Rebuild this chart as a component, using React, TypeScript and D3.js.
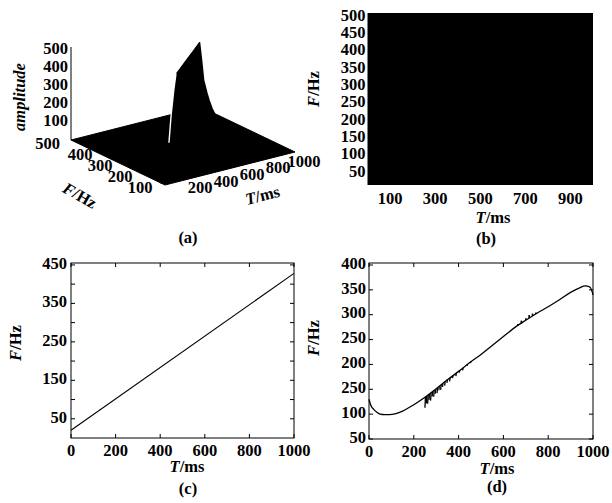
import React from 'react';
import * as d3 from 'd3';

const W = 612;
const H = 503;
const FONT = '"Liberation Serif", "Times New Roman", serif';
const FS = 16.5;

// ---------- (a) 3-D amplitude surface ----------
const surfTicksF = [500, 400, 300, 200, 100];
const surfTicksT = [200, 400, 600, 800, 1000];
const surfTicksA = [100, 200, 300, 400, 500];
const ridgeT = [0, 100, 150, 160, 200, 250, 292, 400, 500, 600, 719, 760, 795, 830, 859, 900, 953, 1000];
const ridgeA = [0, 0, 10, 163, 300, 420, 497, 498, 499, 500, 502, 380, 265, 210, 166, 110, 46, 0];

// chirp (instantaneous frequency) used in (a) and (c)
const chirpT = [0, 1000];
const chirpF = [20, 428];

// ---------- (b) spectrogram ----------
const specYTicks = [500, 450, 400, 350, 300, 250, 200, 150, 100, 50];
const specXTicks = [100, 300, 500, 700, 900];

// ---------- (c) ----------
const cYTicks = [50, 100, 150, 200, 250, 300, 350, 400, 450];
const cYLabels = [50, 150, 250, 350, 450];
const cXTicks = [0, 200, 400, 600, 800, 1000];

// ---------- (d) ----------
const dT = [0, 5, 10, 20, 35, 50, 70, 90, 120, 150, 200, 250, 300, 350, 400, 450, 500, 550, 600, 650, 700, 750, 800, 850, 900, 940, 965, 985, 995, 1000];
const dF = [130, 122, 116, 110, 104, 100, 99, 99, 101, 106, 119, 134, 151, 169, 186, 204, 220, 238, 256, 274, 289, 303, 316, 330, 345, 354, 358, 356, 348, 340];
const spikeT = [252, 258, 264, 270, 277, 284, 291, 298, 306, 314, 322, 330, 340, 350, 362, 375, 390, 405, 420, 440, 455];
const spikeLen = [22, 15, 18, 12, 16, 10, 13, 9, 11, 8, 10, 7, 8, 6, 7, 5, 6, 4, 5, 3, 3];
const bumpT = [665, 680, 700, 715, 730, 745];
const bumpLen = [3, 5, 4, 6, 5, 3];
const dYTicks = [400, 350, 300, 250, 200, 150, 100, 50];
const dYLabels = ['400', '350', '300', '250', '200', '250', '100', '50'];
const dXTicks = [0, 200, 400, 600, 800, 1000];

const txt = (extra: any = {}) => ({ fontFamily: FONT, fontSize: FS, fontWeight: 'bold', fill: '#000', ...extra });

function Frame({ x, y, ticksY, ticksX }: any) {
  const [x0, x1] = x.range();
  const [y0, y1] = y.range();
  const L = 4;
  return (
    <g>
      <rect x={x0} y={y1} width={x1 - x0} height={y0 - y1} fill="none" stroke="#000" strokeWidth={1} />
      {ticksY.map((v: number) => (
        <g key={'y' + v}>
          <line x1={x0} x2={x0 + L} y1={y(v)} y2={y(v)} stroke="#000" />
          <line x1={x1} x2={x1 - L} y1={y(v)} y2={y(v)} stroke="#000" />
        </g>
      ))}
      {ticksX.map((v: number) => (
        <g key={'x' + v}>
          <line x1={x(v)} x2={x(v)} y1={y0} y2={y0 - L} stroke="#000" />
          <line x1={x(v)} x2={x(v)} y1={y1} y2={y1 + L} stroke="#000" />
        </g>
      ))}
    </g>
  );
}

function TLabel({ x, y }: any) {
  return (
    <text x={x} y={y} textAnchor="middle" {...txt()}>
      <tspan fontStyle="italic">T</tspan>/ms
    </text>
  );
}

function FLabel({ x, y, rot = -90 }: any) {
  return (
    <text transform={`translate(${x},${y}) rotate(${rot})`} textAnchor="middle" dominantBaseline="middle" {...txt()}>
      <tspan fontStyle="italic">F</tspan>/Hz
    </text>
  );
}

function PanelA() {
  const sxT = d3.scaleLinear([0, 1000], [0, 130]);
  const syT = d3.scaleLinear([0, 1000], [0, -33]);
  const sxF = d3.scaleLinear([0, 500], [0, -94]);
  const syF = d3.scaleLinear([0, 500], [0, -45]);
  const syA = d3.scaleLinear([0, 500], [0, -90]);
  const ox = 165, oy = 185;
  const proj = (t: number, f: number, a: number): [number, number] => [
    ox + sxT(t) + sxF(f),
    oy + syT(t) + syF(f) + syA(a),
  ];
  // label offset along the F axis grows slightly with distance (perspective-like)
  const fLabDx = d3.scaleLinear([100, 500], [-6, -11]);
  const fLabDy = d3.scaleLinear([100, 500], [13, 5]);
  const chirp = d3.scaleLinear(chirpT, chirpF);
  const line = d3.line();
  const floor = [proj(0, 500, 0), proj(0, 0, 0), proj(1000, 0, 0), proj(1000, 500, 0)];
  const top = ridgeT.map((t, i) => proj(t, chirp(t), ridgeA[i]));
  const base = ridgeT.map((t) => proj(t, chirp(t), 0)).reverse();
  const white = ridgeT
    .map((t, i) => ({ t, p: proj(t, chirp(t), ridgeA[i]) }))
    .filter((d) => d.t >= 160 && d.t <= 292)
    .map((d) => [d.p[0] - 0.8, d.p[1]] as [number, number]);
  const axTop = proj(0, 500, 500);
  const axBot = proj(0, 500, 0);
  return (
    <g>
      <path d={line(floor as any) + 'Z'} fill="#000" stroke="#000" />
      <path d={line([...top, ...base] as any) + 'Z'} fill="#000" stroke="#000" strokeWidth={1.5} strokeLinejoin="round" />
      <path d={line(white as any) || ''} fill="none" stroke="#fff" strokeWidth={1.4} />
      <line x1={axBot[0]} y1={axBot[1]} x2={axTop[0]} y2={axTop[1] - 3} stroke="#000" />
      {surfTicksA.map((a) => {
        const p = proj(0, 500, a);
        return (
          <text key={a} x={p[0] - 3} y={p[1]} textAnchor="end" dominantBaseline="middle" {...txt()}>
            {a}
          </text>
        );
      })}
      {surfTicksF.map((f) => {
        const p = proj(0, f, 0);
        return (
          <text key={f} x={p[0] + fLabDx(f)} y={p[1] + fLabDy(f)} textAnchor={f === 500 ? 'end' : 'middle'} dominantBaseline="middle" {...txt()}>
            {f}
          </text>
        );
      })}
      {surfTicksT.map((t) => {
        const p = proj(t, 0, 0);
        return (
          <text key={t} x={p[0] + 9} y={p[1] + 11} textAnchor="middle" dominantBaseline="middle" {...txt()}>
            {t}
          </text>
        );
      })}
      <text transform="translate(21,97) rotate(-90)" textAnchor="middle" dominantBaseline="middle" {...txt({ fontStyle: 'italic' })}>
        amplitude
      </text>
      <FLabel x={79} y={197} rot={30} />
      <text transform="translate(263,197) rotate(-14)" textAnchor="middle" dominantBaseline="middle" {...txt()}>
        <tspan fontStyle="italic">T</tspan>/ms
      </text>
      <text x={188} y={243} textAnchor="middle" {...txt()}>(a)</text>
    </g>
  );
}

function PanelB() {
  const x = d3.scaleLinear([0, 1000], [367.5, 593]);
  const y = d3.scaleLinear([15, 511], [185, 13]);
  return (
    <g>
      <rect x={x(0)} y={y(511)} width={x(1000) - x(0)} height={y(15) - y(511)} fill="#000" />
      {specYTicks.map((v) => (
        <text key={v} x={x(0) - 2} y={y(v)} textAnchor="end" dominantBaseline="middle" {...txt()}>
          {v}
        </text>
      ))}
      {specXTicks.map((v) => (
        <text key={v} x={x(v)} y={204} textAnchor="middle" {...txt()}>
          {v}
        </text>
      ))}
      <TLabel x={493} y={223} />
      <FLabel x={315} y={89} />
      <text x={486} y={244} textAnchor="middle" {...txt()}>(b)</text>
    </g>
  );
}

function PanelC() {
  const x = d3.scaleLinear([0, 1000], [71, 294]);
  const y = d3.scaleLinear([0, 455], [438, 263]);
  const line = d3.line<number>().x((_, i) => x(chirpT[i])).y((d) => y(d));
  return (
    <g>
      <Frame x={x} y={y} ticksY={cYTicks} ticksX={cXTicks} />
      <path d={line(chirpF) || ''} fill="none" stroke="#000" strokeWidth={1.1} />
      {cYLabels.map((v) => (
        <text key={v} x={67} y={y(v)} textAnchor="end" dominantBaseline="middle" {...txt()}>
          {v}
        </text>
      ))}
      {cXTicks.map((v) => (
        <text key={v} x={x(v)} y={456} textAnchor="middle" {...txt()}>
          {v}
        </text>
      ))}
      <TLabel x={187} y={472} />
      <FLabel x={17} y={343} />
      <text x={188} y={494} textAnchor="middle" {...txt()}>(c)</text>
    </g>
  );
}

function PanelD() {
  const x = d3.scaleLinear([0, 1000], [369, 593]);
  const y = d3.scaleLinear([50, 404], [439, 263]);
  const fAt = d3.scaleLinear(dT, dF);
  const line = d3
    .line<number>()
    .x((_, i) => x(dT[i]))
    .y((d) => y(d))
    .curve(d3.curveMonotoneX);
  return (
    <g>
      <Frame x={x} y={y} ticksY={dYTicks} ticksX={dXTicks} />
      <path d={line(dF) || ''} fill="none" stroke="#000" strokeWidth={1.3} />
      {spikeT.map((t, i) => (
        <line key={'s' + t} x1={x(t)} x2={x(t) - 0.5} y1={y(fAt(t))} y2={y(fAt(t) - spikeLen[i])} stroke="#000" strokeWidth={1.3} />
      ))}
      {bumpT.map((t, i) => (
        <line key={'b' + t} x1={x(t)} x2={x(t)} y1={y(fAt(t))} y2={y(fAt(t) + bumpLen[i])} stroke="#000" strokeWidth={1.6} />
      ))}
      {dYTicks.map((v, i) => (
        <text key={v} x={366} y={y(v)} textAnchor="end" dominantBaseline="middle" {...txt()}>
          {dYLabels[i]}
        </text>
      ))}
      {dXTicks.map((v) => (
        <text key={v} x={x(v)} y={457} textAnchor="middle" {...txt()}>
          {v}
        </text>
      ))}
      <TLabel x={497} y={474} />
      <FLabel x={315} y={338} />
      <text x={497} y={492} textAnchor="middle" {...txt()}>(d)</text>
    </g>
  );
}

export default function App() {
  return (
    <svg width={W} height={H} style={{ position: 'absolute', left: 0, top: 0, background: '#fff' }}>
      <rect width={W} height={H} fill="#fff" />
      <PanelA />
      <PanelB />
      <PanelC />
      <PanelD />
    </svg>
  );
}
